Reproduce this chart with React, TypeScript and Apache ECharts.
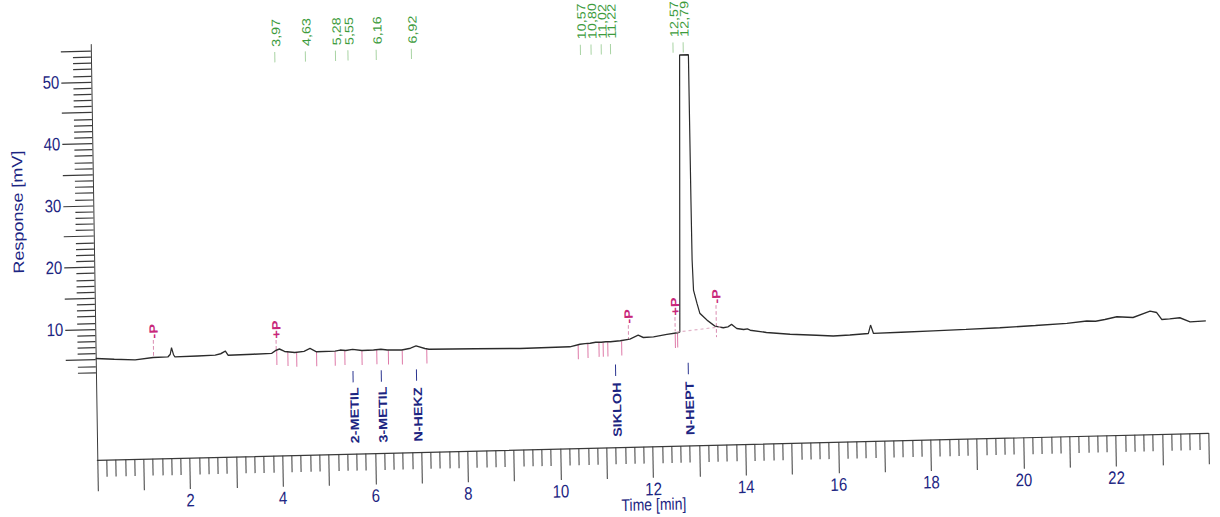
import { useEffect, useRef } from 'react';
import * as echarts from 'echarts';

// Axis ranges (minutes, millivolts)
const TIME_MIN = 0;
const TIME_MAX = 24;
const RESPONSE_MIN = -11.22;
const RESPONSE_MAX = 56;

// Detector trace: [time (min), response (mV)]; the main peak is clipped at the top of the plot
const traceData: [number, number][] = [
  [0.0, 5.24], [0.4, 5.02], [0.85, 4.85], [1.24, 5.16], [1.56, 5.2], [1.61, 5.6], [1.64, 6.66],
  [1.68, 5.55], [1.71, 5.18], [2.2, 5.24], [2.58, 5.3], [2.7, 5.5], [2.8, 5.92], [2.86, 5.24],
  [3.4, 5.3], [3.8, 5.36], [3.9, 5.85], [3.97, 6.04], [4.08, 5.62], [4.3, 5.42], [4.5, 5.55],
  [4.63, 6.02], [4.77, 5.43], [5.17, 5.47], [5.28, 5.62], [5.4, 5.52], [5.55, 5.69], [5.75, 5.47],
  [6.0, 5.5], [6.16, 5.6], [6.3, 5.45], [6.61, 5.38], [6.8, 5.65], [6.92, 6.0], [7.11, 5.55],
  [7.2, 5.4], [8.2, 5.3], [9.16, 5.18], [10.24, 5.24], [10.46, 5.63], [10.57, 5.7], [10.68, 5.75],
  [10.8, 5.88], [10.92, 5.85], [11.02, 5.92], [11.12, 5.9], [11.22, 5.97], [11.33, 6.02],
  [11.54, 6.25], [11.72, 6.87], [11.83, 6.46], [12.05, 6.52], [12.34, 6.87], [12.57, 7.1],
  [12.62, 7.2], [12.71, 52.0], [12.9, 52.0], [12.905, 28.5], [12.91, 18.8], [12.93, 13.9],
  [13.0, 11.8], [13.06, 10.13], [13.21, 9.03], [13.38, 8.02], [13.56, 7.71], [13.66, 7.85],
  [13.74, 8.23], [13.85, 7.55], [14.0, 7.35], [14.08, 7.45], [14.14, 7.22], [14.49, 6.79],
  [15.0, 6.42], [15.57, 6.15], [15.93, 5.94], [16.29, 6.04], [16.69, 6.23], [16.74, 7.57],
  [16.8, 6.22], [17.4, 6.3], [18.09, 6.39], [18.8, 6.5], [19.53, 6.62], [20.3, 6.85],
  [20.98, 7.07], [21.41, 7.39], [21.6, 7.3], [21.8, 7.55], [22.06, 7.94], [22.41, 7.76],
  [22.78, 8.72], [22.92, 8.48], [23.03, 7.34], [23.2, 7.4], [23.42, 7.53], [23.64, 6.83],
  [23.98, 6.93],
];

// Integrated peak retention times (min)
const retentionTimes = [3.97, 4.63, 5.28, 5.55, 6.16, 6.92, 10.57, 10.8, 11.02, 11.22, 12.57, 12.79];

// Identified compounds
const compoundTimes = [5.55, 6.16, 6.92, 11.22, 12.79];
const compoundNames = ['2-METIL', '3-METIL', 'N-HEKZ', 'SIKLOH', 'N-HEPT'];

// Integration events: time, code, dashed marker line top / bottom (mV)
const eventTimes = [1.25, 3.9, 11.51, 12.52, 13.41];
const eventCodes = ['-P', '+P', '-P', '+P', '-P'];
const eventTops = [7.98, 7.49, 8.52, 9.63, 11.41];
const eventBottoms = [5.22, 5.55, 6.1, 7.36, 6.23];

// Peak start / end marks hanging below the trace: [time, top of mark (mV)]
const integrationMarks: [number, number][] = [
  [3.91, 5.75], [4.15, 5.55], [4.34, 5.4], [4.77, 5.4], [5.17, 5.42], [5.38, 5.5],
  [5.75, 5.42], [6.07, 5.48], [6.32, 5.4], [6.62, 5.33], [7.15, 5.42],
  [10.42, 5.5], [10.63, 5.65], [10.87, 5.8], [10.96, 5.8], [11.06, 5.84], [11.36, 5.95],
  [12.52, 6.95], [12.57, 7.0],
];

// Baseline drawn under the main peak
const peakBaseline: [number, number][] = [[12.55, 7.2], [13.5, 7.88]];

// Response axis ticks
const yLabelValues = [10, 20, 30, 40, 50];
const yMajorTicks = [5, 10, 15, 20, 25, 30, 35, 40, 45, 50, 55];
const yMinorTicks = [
  3, 4, 6, 7, 8, 9, 11, 12, 13, 14, 16, 17, 18, 19, 21, 22, 23, 24, 26, 27, 28, 29,
  31, 32, 33, 34, 36, 37, 38, 39, 41, 42, 43, 44, 46, 47, 48, 49, 51, 52, 53, 54,
];

// Vertical placement of annotation rows (mV on the response scale)
const RT_TEXT_LEVEL = 54.9;
const RT_TICK_TOP = 54.06;
const RT_TICK_BOTTOM = 52.4;
const COMPOUND_TICK_TOP = 2.2;
const COMPOUND_TICK_BOTTOM = 0.35;
const COMPOUND_TEXT_LEVEL = -9.5;
const MARK_LENGTH = 2.3;

const FONT = '"Liberation Sans", Arial, Helvetica, sans-serif';
const NAVY = '#1c2582';
const AXIS = '#3a3a3a';
const GREEN = '#3d9b3d';
const MAGENTA = '#c8277a';

export default function App() {
  const ref = useRef<HTMLDivElement>(null);

  useEffect(() => {
    if (!ref.current) return;
    const chart = echarts.init(ref.current, undefined, { renderer: 'svg', width: 1220, height: 450 });

    const option: any = {
      animation: false,
      backgroundColor: '#ffffff',
      grid: { left: 90, right: 18.8, top: 39, bottom: 64.7 },
      xAxis: {
        type: 'value',
        min: TIME_MIN,
        max: TIME_MAX,
        interval: 1,
        axisLine: { show: true, onZero: false, lineStyle: { color: AXIS, width: 1 } },
        axisTick: { show: true, length: 26, lineStyle: { color: AXIS, width: 1 } },
        minorTick: { show: true, splitNumber: 5, length: 14, lineStyle: { color: AXIS, width: 1 } },
        splitLine: { show: false },
        minorSplitLine: { show: false },
        axisLabel: {
          margin: 28,
          color: NAVY,
          fontSize: 15,
          fontFamily: FONT,
          formatter: (v: number) => (v % 2 === 0 && v > TIME_MIN && v < TIME_MAX ? String(v) : ''),
        },
        name: 'Time [min]',
        nameLocation: 'middle',
        nameGap: 41,
        nameMoveOverlap: false,
        nameTextStyle: { color: NAVY, fontSize: 14, fontFamily: FONT },
      },
      yAxis: [
        {
          type: 'value',
          min: RESPONSE_MIN,
          max: RESPONSE_MAX,
          position: 'left',
          axisLine: { show: true, onZero: false, lineStyle: { color: AXIS, width: 1 } },
          axisTick: { show: true, length: 18, customValues: yMinorTicks, lineStyle: { color: AXIS, width: 1 } },
          axisLabel: { show: false },
          splitLine: { show: false },
        },
        {
          type: 'value',
          min: RESPONSE_MIN,
          max: RESPONSE_MAX,
          position: 'left',
          axisLine: { show: false, onZero: false },
          axisTick: { show: true, length: 30, customValues: yMajorTicks, lineStyle: { color: AXIS, width: 1 } },
          axisLabel: {
            customValues: yLabelValues,
            margin: 32,
            color: NAVY,
            fontSize: 15,
            fontFamily: FONT,
          },
          splitLine: { show: false },
        },
      ],
      graphic: [
        {
          type: 'text',
          x: 14.6,
          y: 177,
          rotation: Math.PI / 2,
          silent: true,
          style: {
            text: 'Response [mV]',
            fill: NAVY,
            font: `15px ${FONT}`,
            align: 'center',
            verticalAlign: 'middle',
            textAlign: 'center',
            textVerticalAlign: 'middle',
          },
        },
      ],
      series: [
        {
          name: 'Signal',
          type: 'line',
          xAxisIndex: 0,
          yAxisIndex: 0,
          data: traceData,
          showSymbol: false,
          silent: true,
          lineStyle: { color: '#2b2b2b', width: 1.2 },
        },
        {
          name: 'Peak baseline',
          type: 'line',
          xAxisIndex: 0,
          yAxisIndex: 0,
          data: peakBaseline,
          showSymbol: false,
          silent: true,
          lineStyle: { color: '#e2b4c9', width: 1, type: [3, 3] },
        },
        {
          name: 'Retention times',
          type: 'custom',
          xAxisIndex: 0,
          yAxisIndex: 0,
          silent: true,
          data: retentionTimes.map((t) => [t, RT_TEXT_LEVEL]),
          renderItem: (params: any, api: any) => {
            const t = api.value(0);
            const [x, yTop] = api.coord([t, RT_TICK_TOP]);
            const [, yBottom] = api.coord([t, RT_TICK_BOTTOM]);
            const [, yText] = api.coord([t, api.value(1)]);
            const label = retentionTimes[params.dataIndex].toFixed(2).replace('.', ',');
            return {
              type: 'group',
              children: [
                {
                  type: 'line',
                  shape: { x1: x, y1: yTop, x2: x, y2: yBottom },
                  style: { stroke: '#a8d3a3', lineWidth: 1 },
                },
                {
                  type: 'text',
                  x: x + 1.5,
                  y: yText,
                  rotation: Math.PI / 2,
                  style: { text: label, fill: GREEN, font: `12px ${FONT}`, align: 'left', verticalAlign: 'middle' },
                },
              ],
            };
          },
        },
        {
          name: 'Integration marks',
          type: 'custom',
          xAxisIndex: 0,
          yAxisIndex: 0,
          silent: true,
          data: integrationMarks,
          renderItem: (_params: any, api: any) => {
            const [x, yTop] = api.coord([api.value(0), api.value(1)]);
            const [, yBottom] = api.coord([api.value(0), api.value(1) - MARK_LENGTH]);
            return {
              type: 'line',
              shape: { x1: x, y1: yTop, x2: x, y2: yBottom },
              style: { stroke: '#de7aa8', lineWidth: 1 },
            };
          },
        },
        {
          name: 'Integration events',
          type: 'custom',
          xAxisIndex: 0,
          yAxisIndex: 0,
          silent: true,
          data: eventTimes.map((t, i) => [t, eventTops[i], eventBottoms[i]]),
          renderItem: (params: any, api: any) => {
            const [x, yTop] = api.coord([api.value(0), api.value(1)]);
            const [, yBottom] = api.coord([api.value(0), api.value(2)]);
            const [, yText] = api.coord([api.value(0), api.value(1) + 0.25]);
            return {
              type: 'group',
              children: [
                {
                  type: 'line',
                  shape: { x1: x, y1: yTop, x2: x, y2: yBottom },
                  style: { stroke: '#d98bb0', lineWidth: 1, lineDash: [3, 2] },
                },
                {
                  type: 'text',
                  x: x + 0.5,
                  y: yText,
                  rotation: Math.PI / 2,
                  style: {
                    text: eventCodes[params.dataIndex],
                    fill: MAGENTA,
                    font: `bold 12px ${FONT}`,
                    align: 'left',
                    verticalAlign: 'middle',
                  },
                },
              ],
            };
          },
        },
        {
          name: 'Compounds',
          type: 'custom',
          xAxisIndex: 0,
          yAxisIndex: 0,
          silent: true,
          data: compoundTimes.map((t) => [t, COMPOUND_TEXT_LEVEL]),
          renderItem: (params: any, api: any) => {
            const t = api.value(0);
            const [x, yTop] = api.coord([t, COMPOUND_TICK_TOP]);
            const [, yBottom] = api.coord([t, COMPOUND_TICK_BOTTOM]);
            const [, yText] = api.coord([t, api.value(1)]);
            return {
              type: 'group',
              children: [
                {
                  type: 'line',
                  shape: { x1: x, y1: yTop, x2: x, y2: yBottom },
                  style: { stroke: '#2b3590', lineWidth: 1 },
                },
                {
                  type: 'text',
                  x: x + 1,
                  y: yText,
                  rotation: Math.PI / 2,
                  style: {
                    text: compoundNames[params.dataIndex],
                    fill: NAVY,
                    font: `bold 12px ${FONT}`,
                    align: 'left',
                    verticalAlign: 'middle',
                  },
                },
              ],
            };
          },
        },
      ],
    };

    chart.setOption(option);
    return () => chart.dispose();
  }, []);

  return (
    <div
      style={{
        position: 'fixed',
        left: 0,
        top: 0,
        width: 1220,
        height: 517,
        overflow: 'hidden',
        background: '#ffffff',
      }}
    >
      <div
        ref={ref}
        style={{
          width: 1220,
          height: 450,
          transformOrigin: '0 0',
          transform: 'matrix(1, -0.0244, 0.019, 1.2, 0, 0)',
        }}
      />
    </div>
  );
}
